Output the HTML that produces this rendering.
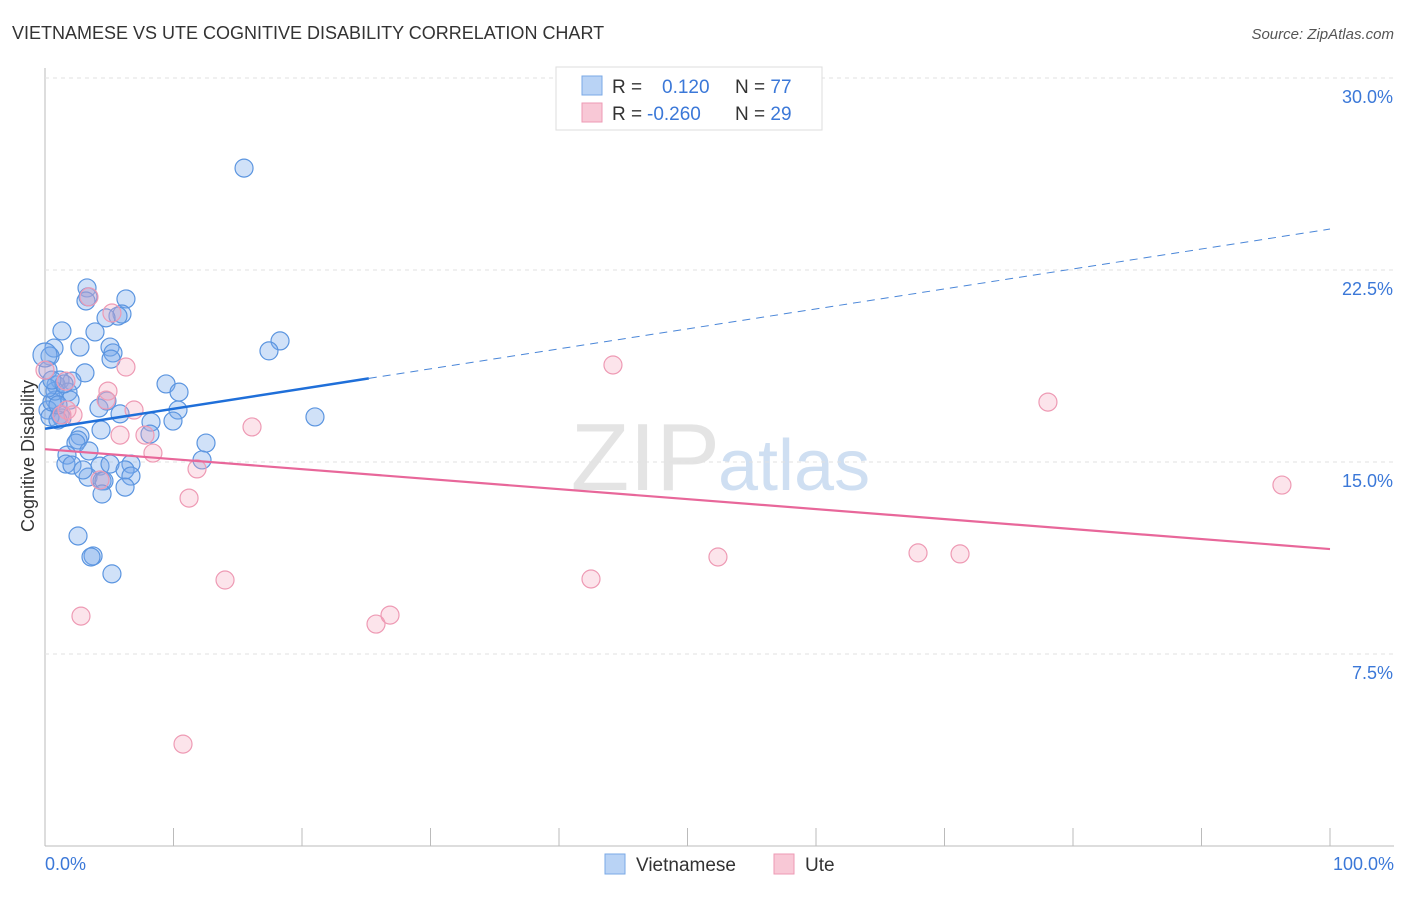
<!DOCTYPE html>
<html><head><meta charset="utf-8"><style>
body{margin:0;background:#fff;font-family:"Liberation Sans",sans-serif;}
svg text{font-family:"Liberation Sans",sans-serif;}
</style></head><body>
<svg id="c" width="1406" height="892">
<text x="12" y="39" font-size="18" fill="#333">VIETNAMESE VS UTE COGNITIVE DISABILITY CORRELATION CHART</text>
<text x="1394" y="39" font-size="15" fill="#555" font-style="italic" text-anchor="end">Source: ZipAtlas.com</text>
<text x="720" y="490" font-size="96" fill="#e4e4e4" font-family="Liberation Serif" text-anchor="end">ZIP</text>
<text x="718" y="490" font-size="72" fill="#cfdff2">atlas</text>
<g id="grid"></g><g id="pts"></g><g id="lines"></g>
<text transform="translate(34,456) rotate(-90)" font-size="18" fill="#333" text-anchor="middle">Cognitive Disability</text>
<text x="45" y="870" font-size="18" fill="#3b78d8">0.0%</text>
<text x="1394" y="870" font-size="18" fill="#3b78d8" text-anchor="end">100.0%</text>
<g>
<rect x="556" y="67" width="266" height="63" fill="#fff" stroke="#ddd"/>
<rect x="582" y="76" width="20" height="19" fill="#b9d3f5" stroke="#7aa8e6"/>
<rect x="582" y="103" width="20" height="19" fill="#f8c8d6" stroke="#ee9ab4"/>
<text x="612" y="93" font-size="19" fill="#333">R = <tspan fill="#3b78d8" x="662">0.120</tspan><tspan x="735" fill="#333">N = </tspan><tspan fill="#3b78d8">77</tspan></text>
<text x="612" y="120" font-size="19" fill="#333">R = <tspan fill="#3b78d8" x="647">-0.260</tspan><tspan x="735" fill="#333">N = </tspan><tspan fill="#3b78d8">29</tspan></text>
</g>
<g>
<rect x="605" y="854" width="20" height="20" fill="#b9d3f5" stroke="#7aa8e6"/>
<text x="636" y="871" font-size="19" fill="#333">Vietnamese</text>
<rect x="774" y="854" width="20" height="20" fill="#f8c8d6" stroke="#ee9ab4"/>
<text x="805" y="871" font-size="19" fill="#333">Ute</text>
</g>
</svg>
<script>
const yTicks=[7.5,15,22.5,30];
const yTickLabels=["7.5%","15.0%","22.5%","30.0%"];
const bluePx=[[244,168],[87,288],[88,297],[126,299],[86,301],[122,314],[118,316],[106,318],[62,331],[95,332],[280,341],[269,351],[54,348],[80,347],[110,347],[113,353],[111,359],[50,356],[48,370],[85,373],[60,380],[72,381],[56,385],[166,384],[179,392],[68,392],[55,400],[99,408],[107,401],[70,400],[178,410],[48,410],[60,415],[62,418],[120,414],[173,421],[151,422],[315,417],[101,430],[80,436],[78,440],[150,434],[76,443],[206,443],[89,451],[67,455],[66,464],[72,465],[202,460],[100,466],[110,464],[131,464],[125,470],[88,477],[83,470],[102,481],[131,476],[104,481],[125,487],[102,494],[78,536],[93,556],[91,557],[112,574],[50,417],[52,402],[55,391],[58,420],[45,355],[48,388],[64,384],[52,380],[58,405]];
const pinkPx=[[89,297],[112,313],[45,370],[66,381],[67,410],[108,391],[126,367],[106,400],[62,415],[73,415],[134,410],[120,435],[145,435],[153,453],[252,427],[197,469],[189,498],[100,480],[225,580],[81,616],[376,624],[390,615],[183,744],[613,365],[1048,402],[1282,485],[591,579],[718,557],[918,553],[960,554]];
// data values (x %, y %)
const blueX=bluePx.map(p=>+((p[0]-45)/12.85).toFixed(2));
const blueY=bluePx.map(p=>+((846-p[1])*0.0390625).toFixed(2));
const pinkX=pinkPx.map(p=>+((p[0]-45)/12.85).toFixed(2));
const pinkY=pinkPx.map(p=>+((846-p[1])*0.0390625).toFixed(2));
const blueTrend=[16.3,24.1]; // y at x=0 and x=100
const pinkTrend=[15.5,11.6];
const blueSolidEnd=25.2;
const X=v=>45+v*12.85, Y=v=>846-v*25.6;
const NS="http://www.w3.org/2000/svg";
function mk(t,a,p){const e=document.createElementNS(NS,t);for(const k in a)e.setAttribute(k,a[k]);p.appendChild(e);return e;}
const g=document.getElementById('grid');
const ax=mk('line',{x1:45,y1:68,x2:45,y2:846,stroke:'#bbb'},g);


const bx=mk('line',{x1:45,y1:846,x2:1394,y2:846,stroke:'#bbb'},g);


for(let i=0;i<=10;i++){const t=mk('line',{x1:X(i*10),x2:X(i*10),y1:828,y2:846,stroke:'#bbb'},g);

}
yTicks.forEach((v,i)=>{const l=mk('line',{x1:45,x2:1394,y1:Y(v),y2:Y(v),stroke:'#e2e2e2','stroke-dasharray':'4,4'},g);


const t=mk('text',{x:1393,y:Y(v)+25,'font-size':18,fill:'#3b78d8','text-anchor':'end'},g);t.textContent=yTickLabels[i];

});
const P=document.getElementById('pts');
blueX.forEach((x,i)=>{const c=mk('circle',{cx:X(x),cy:Y(blueY[i]),r:i==68?12:9,fill:'rgba(120,170,235,0.35)',stroke:'#5b95e0','stroke-width':1.2},P);

});
pinkX.forEach((x,i)=>{const c=mk('circle',{cx:X(x),cy:Y(pinkY[i]),r:9,fill:'rgba(245,165,190,0.3)',stroke:'#ee9ab4','stroke-width':1.2},P);

});
const L=document.getElementById('lines');
const by=x=>blueTrend[0]+(blueTrend[1]-blueTrend[0])*x/100;
let l1=mk('line',{x1:X(0),y1:Y(by(0)),x2:X(blueSolidEnd),y2:Y(by(blueSolidEnd)),stroke:'#1f6fd9','stroke-width':2.5},L);


let l2=mk('line',{x1:X(blueSolidEnd),y1:Y(by(blueSolidEnd)),x2:X(100),y2:Y(by(100)),stroke:'#4a86d8','stroke-width':1,'stroke-dasharray':'8,6'},L);


let l3=mk('line',{x1:X(0),y1:Y(pinkTrend[0]),x2:X(100),y2:Y(pinkTrend[1]),stroke:'#e8679a','stroke-width':2.2},L);


</script>
</body></html>
